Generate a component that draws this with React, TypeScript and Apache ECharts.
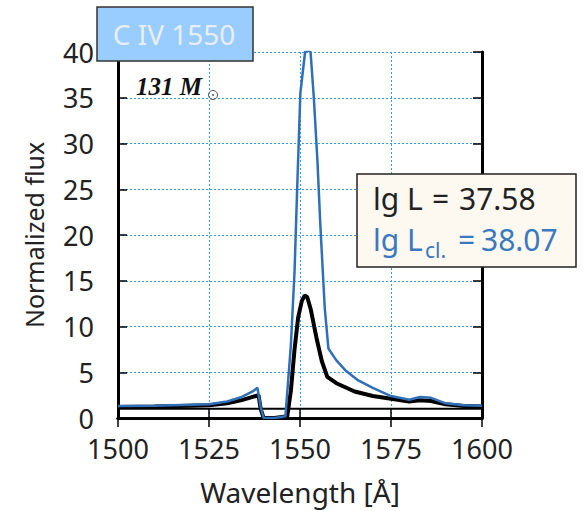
import React, { useEffect, useRef } from "react";
import * as echarts from "echarts";

const wavelengthTicks = [1500, 1525, 1550, 1575, 1600];
const fluxTicks = [0, 5, 10, 15, 20, 25, 30, 35, 40];

// observed (black) profile
const obsWave = [1500, 1510, 1520, 1525, 1530, 1534, 1537, 1538.6, 1539.2, 1540, 1543, 1546.5, 1547.5, 1548.5, 1549.5, 1550.5, 1551.3, 1552, 1553, 1554.5, 1556, 1557.5, 1560, 1565, 1570, 1575, 1580, 1583, 1586, 1590, 1595, 1600];
const obsFlux = [1.2, 1.25, 1.35, 1.4, 1.6, 1.95, 2.3, 2.5, 1.0, 0.0, 0.0, 0.2, 3.0, 7.5, 11.0, 12.8, 13.4, 13.2, 11.8, 8.8, 6.2, 4.5, 3.8, 2.9, 2.4, 2.1, 1.8, 1.95, 1.85, 1.5, 1.3, 1.25];

// corrected (blue) profile
const corWave = [1500, 1510, 1520, 1525, 1530, 1534, 1537, 1538.3, 1539.2, 1540, 1543, 1546, 1547.5, 1548.5, 1549.3, 1550.1, 1551.4, 1552.2, 1552.9, 1553.8, 1554.8, 1555.6, 1556.8, 1557.8, 1560, 1562.5, 1566, 1570, 1575, 1580, 1583, 1586, 1590, 1595, 1600];
const corFlux = [1.3, 1.35, 1.45, 1.5, 1.8, 2.3, 2.9, 3.3, 1.2, 0.0, 0.0, 0.2, 8.0, 16.0, 26.0, 35.5, 40.0, 40.2, 40.0, 35.0, 28.0, 21.0, 12.0, 7.6, 6.3, 5.2, 4.1, 3.3, 2.4, 2.0, 2.3, 2.2, 1.6, 1.4, 1.35];

const continuum = [[1500, 1], [1600, 1]];

const lgL = "37.58";
const lgLcl = "38.07";

export default function App() {
  const ref = useRef<HTMLDivElement>(null);
  useEffect(() => {
    if (!ref.current) return;
    const chart = echarts.init(ref.current, null, { renderer: "svg" });
    const font = "Noto Sans";
    const axisLine = { show: true, lineStyle: { color: "#000", width: 3 } };
    const tickInside = { show: true, inside: true, length: 9, lineStyle: { color: "#000", width: 1.5 } };
    const split = { show: true, lineStyle: { color: "#3399ff", type: [2, 2] as any, width: 1 } };
    const legText = (x: number, y: number, text: string, fill: string, size = 30) => ({
      type: "text", x, y, z: 101,
      style: { text, fontFamily: font, fontSize: size, fill, verticalAlign: "middle" },
    });
    const blue = "#3a78c0";
    chart.setOption({
      animation: false,
      backgroundColor: "#fff",
      grid: { left: 118, right: 104, top: 52, bottom: 93, containLabel: false },
      xAxis: [
        {
          type: "value", min: 1500, max: 1600, interval: 25,
          name: "Wavelength [Å]", nameLocation: "middle", nameGap: 60,
          nameTextStyle: { fontFamily: font, fontSize: 28, color: "#222" },
          axisLine, axisTick: tickInside, splitLine: split,
          axisLabel: { fontFamily: font, fontSize: 27, color: "#222", margin: 17,
            formatter: (v: number) => (wavelengthTicks.includes(v) ? String(v) : "") },
        },
        {
          type: "value", min: 1500, max: 1600, interval: 25, position: "top",
          axisLine, axisTick: tickInside, axisLabel: { show: false }, splitLine: { show: false },
        },
      ],
      yAxis: [
        {
          type: "value", min: 0, max: 40, interval: 5,
          name: "Normalized flux", nameLocation: "middle", nameGap: 72,
          nameTextStyle: { fontFamily: font, fontSize: 25, color: "#222" },
          axisLine, axisTick: tickInside, splitLine: split,
          axisLabel: { fontFamily: font, fontSize: 27, color: "#222", margin: 24,
            formatter: (v: number) => (fluxTicks.includes(v) ? String(v) : "") },
        },
        {
          type: "value", min: 0, max: 40, interval: 5, position: "right",
          axisLine, axisTick: tickInside, axisLabel: { show: false }, splitLine: { show: false },
        },
      ],
      series: [
        {
          type: "line", data: continuum, showSymbol: false, silent: true,
          lineStyle: { color: "#000", width: 2 }, z: 2,
        },
        {
          type: "line", data: obsWave.map((w, i) => [w, obsFlux[i]]), showSymbol: false,
          lineStyle: { color: "#000", width: 4 }, z: 3,
        },
        {
          type: "line", data: corWave.map((w, i) => [w, corFlux[i]]), showSymbol: false,
          lineStyle: { color: "#2f6fb8", width: 2.5 }, z: 4,
        },
      ],
      graphic: [
        {
          type: "rect", shape: { x: 97, y: 7, width: 156, height: 54 }, z: 100,
          style: { fill: "#99ccff", stroke: "#333", lineWidth: 1.5 },
        },
        {
          type: "text", x: 174, y: 34, z: 101,
          style: { text: "C IV 1550", fontFamily: font, fontSize: 28, fill: "#e8eef2", align: "center", verticalAlign: "middle" },
        },
        {
          type: "text", x: 136, y: 86, z: 101,
          style: { text: "131 M", fontFamily: "Liberation Serif", fontStyle: "italic", fontWeight: "bold", fontSize: 25, fill: "#111", verticalAlign: "middle" },
        },
        {
          type: "circle", shape: { cx: 213, cy: 95, r: 4.5 }, z: 101,
          style: { fill: "none", stroke: "#555", lineWidth: 1 },
        },
        {
          type: "circle", shape: { cx: 213, cy: 95, r: 0.9 }, z: 101,
          style: { fill: "#444" },
        },
        {
          type: "rect", shape: { x: 357, y: 174, width: 219, height: 93 }, z: 100,
          style: { fill: "#fdf8f0", stroke: "#222", lineWidth: 1.5 },
        },
        legText(373, 198, "lg L", "#222"),
        legText(432, 198, "=", "#222"),
        legText(459, 198, lgL, "#222"),
        legText(373, 239, "lg L", blue),
        legText(425, 250, "cl.", blue, 21),
        legText(458, 239, "=", blue),
        legText(481, 239, lgLcl, blue),
      ],
    });
    return () => chart.dispose();
  }, []);
  return <div ref={ref} style={{ position: "fixed", left: 0, top: 0, width: 586, height: 511 }} />;
}
